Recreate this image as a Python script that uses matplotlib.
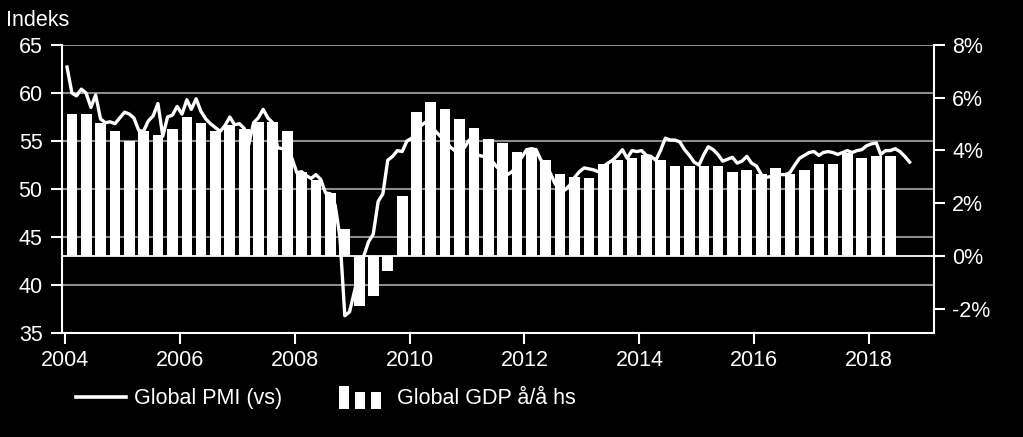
import matplotlib
matplotlib.use('Agg')
import matplotlib.pyplot as plt
import matplotlib.dates as mdates
from matplotlib.legend_handler import HandlerBase
from matplotlib.patches import Rectangle
from matplotlib.lines import Line2D
import pandas as pd

plt.rcParams['font.family'] = ['Liberation Sans', 'DejaVu Sans']

# Global PMI, monthly from Jan 2004 (left axis)
pmi = [62.7, 60.0, 59.7, 60.4, 60.0, 58.5, 59.8, 57.3, 56.9, 57.0, 56.8, 57.4,
       58.0, 57.8, 57.4, 56.1, 56.0, 57.1, 57.6, 58.9, 55.5, 57.5, 57.7, 58.6,
       57.8, 59.3, 58.3, 59.4, 58.1, 57.3, 56.8, 56.4, 56.0, 56.6, 57.5, 56.7,
       56.8, 56.3, 54.6, 56.9, 57.4, 58.3, 57.4, 56.9, 54.3, 54.2, 54.3, 53.2,
       51.7, 51.8, 51.4, 51.1, 51.5, 51.0, 49.6, 49.5, 48.3, 45.0, 36.8, 37.2,
       39.3, 41.5, 43.0, 44.5, 45.3, 48.7, 49.5, 53.0, 53.4, 54.0, 53.9, 55.0,
       55.3, 56.2, 56.6, 57.0, 56.8, 56.0, 55.5, 55.1, 54.4, 54.0, 54.4, 54.3,
       55.1, 54.1, 53.5, 53.4, 53.2, 52.8, 52.2, 52.0, 51.5, 51.8, 52.6, 53.3,
       54.1, 54.2, 54.1, 53.0, 52.6, 51.6, 50.5, 50.0, 49.9, 50.4, 51.2, 51.8,
       52.2, 52.1, 52.0, 51.8, 52.3, 52.7, 53.0, 53.5, 54.1, 53.2, 54.0, 53.9,
       54.0, 53.5, 53.4, 53.0, 54.0, 55.3, 55.1, 55.1, 54.9, 54.1, 53.5, 52.8,
       52.5, 53.6, 54.4, 54.1, 53.6, 52.9, 53.1, 53.3, 52.7, 52.9, 53.4, 52.7,
       52.4, 51.5, 51.2, 51.3, 51.3, 51.5, 51.5, 51.7, 52.5, 53.2, 53.5, 53.8,
       53.9, 53.5, 53.8, 53.9, 53.8, 53.6, 53.8, 54.0, 53.8, 54.0, 54.1, 54.5,
       54.7, 54.8, 53.6, 54.0, 54.0, 54.2, 53.9, 53.4, 52.8]

# Global GDP y/y in %, quarterly from Q1 2004 (right axis)
gdp = [5.40, 5.40, 5.03, 4.73, 4.37, 4.73, 4.58, 4.81, 5.28, 5.03, 4.73, 4.95,
       4.80, 5.09, 5.09, 4.73, 3.19, 2.90, 2.37, 1.02, -1.89, -1.52, -0.57, 2.29,
       5.47, 5.85, 5.56, 5.18, 4.87, 4.43, 4.29, 3.93, 4.08, 3.64, 3.10, 2.98,
       2.94, 3.47, 3.64, 3.70, 3.83, 3.64, 3.41, 3.41, 3.41, 3.41, 3.19, 3.27,
       3.12, 3.33, 3.10, 3.26, 3.48, 3.48, 3.90, 3.71, 3.79, 3.79]

pmi_dates = pd.date_range('2004-01-01', periods=len(pmi), freq='MS') + pd.Timedelta(days=14)
gdp_dates = pd.date_range('2004-01-01', periods=len(gdp), freq='QS') + pd.Timedelta(days=45)

fig = plt.figure(figsize=(10.23, 4.37), dpi=100, facecolor='black')
ax = fig.add_axes([0.0606, 0.238, 0.8524, 0.659])
ax2 = ax.twinx()
ax.set_zorder(2)
ax2.set_zorder(1)
ax.patch.set_visible(False)
ax2.set_facecolor('black')

# bars (right axis)
ax2.bar(gdp_dates, gdp, width=68, color='white', zorder=2)
ax2.axhline(0, color='white', lw=1.3, zorder=3)
ax2.set_ylim(-2.92, 8)
ax2.set_yticks([-2, 0, 2, 4, 6, 8])
ax2.yaxis.set_major_formatter(lambda v, p: f'{v:.0f}%')

# PMI line (left axis)
ax.plot(pmi_dates, pmi, color='white', lw=2.4, zorder=4)
ax.set_ylim(35, 65)
ax.set_yticks(range(35, 66, 5))
ax.grid(axis='y', color='white', alpha=0.55, lw=1.5)
ax.set_xlim(pd.Timestamp('2003-12-14'), pd.Timestamp('2019-02-17'))
ax.xaxis.set_major_locator(mdates.YearLocator(2))
ax.xaxis.set_major_formatter(mdates.DateFormatter('%Y'))

for a in (ax, ax2):
    for s in a.spines.values():
        s.set_visible(False)
    a.tick_params(colors='white', labelsize=15.5, length=8, width=1.5)
ax.spines['left'].set_visible(True)
ax.spines['bottom'].set_visible(True)
ax2.spines['right'].set_visible(True)
for s in (ax.spines['left'], ax.spines['bottom'], ax2.spines['right']):
    s.set_color('white')
    s.set_linewidth(1.5)
ax.tick_params(axis='y', pad=6)
ax.tick_params(axis='x', pad=4)
ax2.tick_params(axis='y', pad=5)

fig.text(0.006, 0.952, 'Indeks', color='white', fontsize=15.5, va='center', ha='left')


class BarIconHandler(HandlerBase):
    def create_artists(self, legend, orig_handle, xdescent, ydescent,
                       width, height, fontsize, trans):
        x0 = -xdescent
        y0 = -ydescent - 0.3 * height
        bw = 0.2 * width
        arts = []
        for xs, hh in [(0.0, 1.5), (0.32, 1.1), (0.64, 1.1)]:
            r = Rectangle((x0 + xs * width, y0), bw, hh * height,
                          facecolor='white', edgecolor='none', transform=trans)
            arts.append(r)
        return arts


line_h = Line2D([], [], color='white', lw=2.6)
bar_h = Rectangle((0, 0), 1, 1, facecolor='white')
fig.legend(handles=[line_h, bar_h], labels=['Global PMI (vs)', 'Global GDP å/å hs'],
           handler_map={bar_h: BarIconHandler()}, loc='center left',
           bbox_to_anchor=(0.0743, 0.087), ncol=2, frameon=False, fontsize=15.5,
           handlelength=2.3, handletextpad=0.4, columnspacing=2.65,
           borderpad=0, borderaxespad=0, labelcolor='white')

fig.savefig('out.png', dpi=100, facecolor='black')
